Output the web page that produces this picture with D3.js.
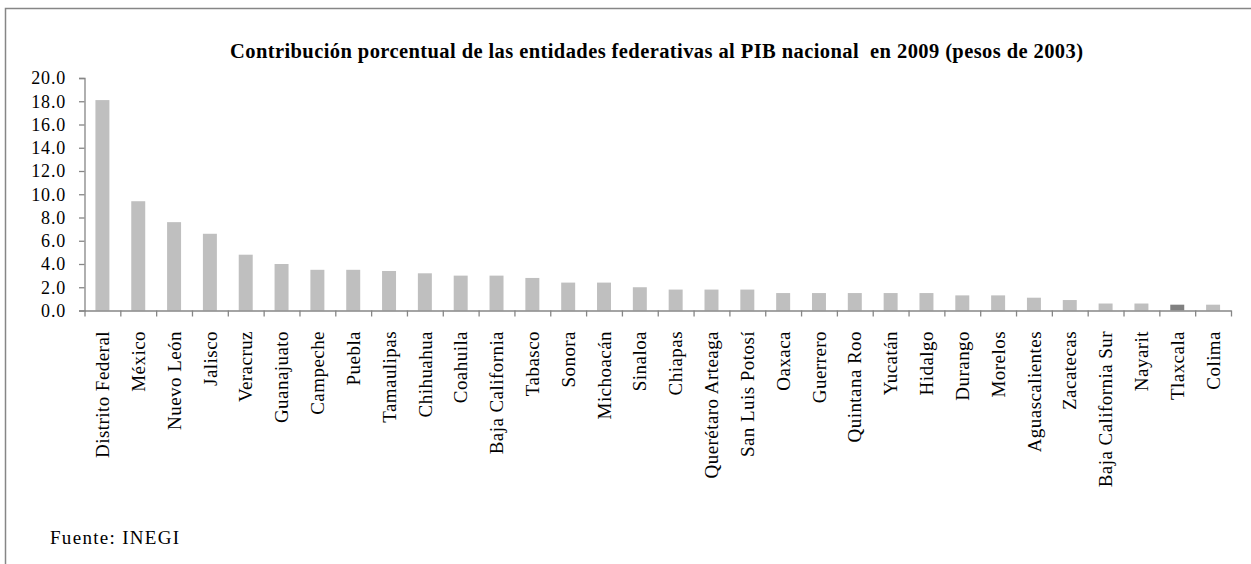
<!DOCTYPE html>
<html>
<head>
<meta charset="utf-8">
<script src="https://cdn.jsdelivr.net/npm/d3@7"></script>
<style>
  html, body { margin: 0; padding: 0; background: #fff; }
  svg { display: block; }
  text { font-family: "Liberation Serif", "Times New Roman", serif; fill: #000; }
</style>
</head>
<body>
<svg id="chart" width="1251" height="564" font-family="'Liberation Serif', serif"></svg>
<script>
// ---- Data ----
const states = ["Distrito Federal","México","Nuevo León","Jalisco","Veracruz","Guanajuato","Campeche","Puebla","Tamaulipas","Chihuahua","Coahuila","Baja California","Tabasco","Sonora","Michoacán","Sinaloa","Chiapas","Querétaro Arteaga","San Luis Potosí","Oaxaca","Guerrero","Quintana Roo","Yucatán","Hidalgo","Durango","Morelos","Aguascalientes","Zacatecas","Baja California Sur","Nayarit","Tlaxcala","Colima"];
const shares = [18.1,9.4,7.6,6.6,4.8,4.0,3.5,3.5,3.4,3.2,3.0,3.0,2.8,2.4,2.4,2.0,1.8,1.8,1.8,1.5,1.5,1.5,1.5,1.5,1.3,1.3,1.1,0.9,0.6,0.6,0.5,0.5];
const highlighted = ["Tlaxcala"];
const yTicks = [0,2,4,6,8,10,12,14,16,18,20];
const titleText = "Contribución porcentual de las entidades federativas al PIB nacional  en 2009 (pesos de 2003)";
const sourceText = "Fuente: INEGI";

// ---- Layout ----
const svg = d3.select("#chart");
const mLeft = 84.5, mRight = 1231, mTop = 78, mBottom = 310.5;
const axisColor = "#868686";
const serif = "'Liberation Serif', 'Times New Roman', serif";

// outer border (only top and left visible)
svg.append("path")
  .attr("d", `M5.5,1000 V8.5 H1300`)
  .attr("fill", "none").attr("stroke", axisColor).attr("stroke-width", 1.5);

const x = d3.scaleBand().domain(states).range([mLeft, mRight]).paddingInner(0.61).paddingOuter(0.305);
const xIdx = d3.scaleLinear().domain([0, states.length]).range([mLeft, mRight]);
const y = d3.scaleLinear().domain([0, 20]).range([mBottom, mTop]);

// bars
svg.append("g").selectAll("rect").data(states).join("rect")
  .attr("x", d => x(d))
  .attr("width", x.bandwidth())
  .attr("y", (d, i) => y(shares[i]))
  .attr("height", (d, i) => y(0) - y(shares[i]))
  .attr("fill", d => highlighted.includes(d) ? "#808080" : "#bfbfbf");

// y axis
const yAxis = svg.append("g").attr("transform", `translate(${mLeft},0)`)
  .call(d3.axisLeft(y).tickValues(yTicks).tickFormat(d3.format(".1f")).tickSize(5.5).tickPadding(13));
yAxis.attr("font-family", serif);
yAxis.select(".domain").attr("stroke", axisColor).attr("stroke-width", 1.3);
yAxis.selectAll(".tick line").attr("stroke", axisColor).attr("stroke-width", 1.3);
yAxis.selectAll(".tick text")
  .style("font-family", serif)
  .style("font-size", "18px").style("letter-spacing", "0.8px").attr("fill", "#000");

// x axis boundary ticks
const xTickAxis = svg.append("g").attr("transform", `translate(0,${mBottom})`)
  .call(d3.axisBottom(xIdx).tickValues(d3.range(states.length + 1)).tickFormat("").tickSize(6).tickSizeOuter(0));
xTickAxis.select(".domain").attr("stroke", axisColor).attr("stroke-width", 1.3);
xTickAxis.selectAll(".tick line").attr("stroke", axisColor).attr("stroke-width", 1.3);

// x labels
const xAxis = svg.append("g").attr("transform", `translate(0,${mBottom})`)
  .call(d3.axisBottom(x).tickSize(0).tickPadding(0));
xAxis.attr("font-family", serif);
xAxis.select(".domain").remove();
xAxis.selectAll(".tick text")
  .attr("transform", "rotate(-90)")
  .attr("text-anchor", "end")
  .attr("x", -20.5)
  .attr("y", 0)
  .attr("dy", "0.35em")
  .style("font-family", serif)
  .style("font-size", "19px").style("letter-spacing", "0.45px").attr("fill", "#000");

// title
svg.append("text")
  .attr("x", 656.5).attr("y", 58)
  .attr("text-anchor", "middle")
  .style("font-family", serif)
  .style("font-weight", "bold").style("font-size", "20.5px")
  .style("white-space", "pre")
  .attr("textLength", 853).attr("lengthAdjust", "spacing")
  .text(titleText);

// source
svg.append("text")
  .attr("x", 50).attr("y", 544)
  .style("font-family", serif)
  .style("font-size", "19px").style("letter-spacing", "1.3px")
  .text(sourceText);
</script>
</body>
</html>
